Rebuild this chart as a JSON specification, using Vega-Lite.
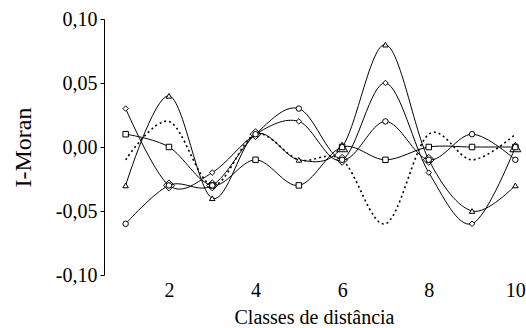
{
  "$schema": "https://vega.github.io/schema/vega-lite/v6.json",
  "width": 420,
  "height": 256,
  "autosize": "none",
  "padding": {"left": 104, "top": 19, "right": 2, "bottom": 53},
  "background": "white",
  "config": {
    "view": {"stroke": null},
    "font": "Liberation Serif",
    "axis": {"labelFont": "Liberation Serif", "titleFont": "Liberation Serif", "labelColor": "black", "titleColor": "black", "titleFontWeight": "normal", "grid": false}
  },
  "datasets": {
    "main": [
      {"s": "A", "x": 1, "y": 0.03}, {"s": "A", "x": 2, "y": -0.03}, {"s": "A", "x": 3, "y": -0.02}, {"s": "A", "x": 4, "y": 0.01}, {"s": "A", "x": 5, "y": 0.02},
      {"s": "A", "x": 6, "y": -0.01}, {"s": "A", "x": 7, "y": 0.05}, {"s": "A", "x": 8, "y": -0.02}, {"s": "A", "x": 9, "y": -0.06}, {"s": "A", "x": 10, "y": 0.0},
      {"s": "B", "x": 1, "y": -0.03}, {"s": "B", "x": 2, "y": 0.04}, {"s": "B", "x": 3, "y": -0.04}, {"s": "B", "x": 4, "y": 0.01}, {"s": "B", "x": 5, "y": -0.01},
      {"s": "B", "x": 6, "y": 0.0}, {"s": "B", "x": 7, "y": 0.08}, {"s": "B", "x": 8, "y": -0.01}, {"s": "B", "x": 9, "y": -0.05}, {"s": "B", "x": 10, "y": -0.03},
      {"s": "C", "x": 1, "y": 0.01}, {"s": "C", "x": 2, "y": 0.0}, {"s": "C", "x": 3, "y": -0.03}, {"s": "C", "x": 4, "y": -0.01}, {"s": "C", "x": 5, "y": -0.03},
      {"s": "C", "x": 6, "y": 0.0}, {"s": "C", "x": 7, "y": -0.01}, {"s": "C", "x": 8, "y": 0.0}, {"s": "C", "x": 9, "y": 0.0}, {"s": "C", "x": 10, "y": 0.0},
      {"s": "D", "x": 1, "y": -0.06}, {"s": "D", "x": 2, "y": -0.03}, {"s": "D", "x": 3, "y": -0.03}, {"s": "D", "x": 4, "y": 0.01}, {"s": "D", "x": 5, "y": 0.03},
      {"s": "D", "x": 6, "y": -0.01}, {"s": "D", "x": 7, "y": 0.02}, {"s": "D", "x": 8, "y": -0.01}, {"s": "D", "x": 9, "y": 0.01}, {"s": "D", "x": 10, "y": -0.01},
      {"s": "E", "x": 1, "y": -0.01}, {"s": "E", "x": 2, "y": 0.02}, {"s": "E", "x": 3, "y": -0.03}, {"s": "E", "x": 4, "y": 0.01}, {"s": "E", "x": 5, "y": -0.01},
      {"s": "E", "x": 6, "y": -0.01}, {"s": "E", "x": 7, "y": -0.06}, {"s": "E", "x": 8, "y": 0.01}, {"s": "E", "x": 9, "y": -0.01}, {"s": "E", "x": 10, "y": 0.01}
    ],
    "sig": [
      {"m": "circle", "x": 2, "y": -0.03}, {"m": "circle", "x": 3, "y": -0.03}, {"m": "circle", "x": 4, "y": 0.01},
      {"m": "circle", "x": 6, "y": -0.01}, {"m": "circle", "x": 8, "y": -0.01},
      {"m": "square", "x": 6, "y": 0.0}, {"m": "square", "x": 10, "y": 0.0}
    ]
  },
  "encoding": {
    "x": {"field": "x", "type": "quantitative", "scale": {"domain": [0.5, 10.2], "nice": false, "zero": false},
      "axis": {"values": [2, 4, 6, 8, 10], "domain": false, "ticks": false, "labelFontSize": 20, "labelPadding": 5, "title": "Classes de distância", "titleFontSize": 20, "titlePadding": 7}},
    "y": {"field": "y", "type": "quantitative", "scale": {"domain": [-0.1, 0.1], "nice": false},
      "axis": {"values": [-0.1, -0.05, 0, 0.05, 0.1], "labelExpr": "replace(replace(format(datum.value, '.2f'), '.', ','), '\u2212', '-')", "domainColor": "black", "tickColor": "black", "tickSize": 4, "labelPadding": 3, "labelFontSize": 20, "title": "I-Moran", "titleFontSize": 24, "titlePadding": 20}}
  },
  "layer": [
    {"mark": {"type": "rule", "color": "black", "strokeWidth": 1}, "encoding": {"y": {"datum": 0}, "x": {"datum": 0.5}, "x2": {"datum": 10.2}}},
    {"data": {"name": "main"}, "transform": [{"filter": "datum.s != 'E'"}],
      "mark": {"type": "line", "interpolate": "cardinal", "color": "black", "strokeWidth": 1},
      "encoding": {"detail": {"field": "s"}}},
    {"data": {"name": "main"}, "transform": [{"filter": "datum.s == 'E'"}],
      "mark": {"type": "line", "interpolate": "cardinal", "color": "black", "strokeWidth": 1.6, "strokeDash": [2, 3]},
      "encoding": {"detail": {"field": "s"}}},
    {"data": {"name": "main"}, "transform": [{"filter": "datum.s != 'E'"}],
      "mark": {"type": "point", "filled": false, "fill": "white", "fillOpacity": 1, "stroke": "black", "strokeWidth": 1, "size": 30, "opacity": 1},
      "encoding": {"shape": {"field": "s", "type": "nominal", "legend": null,
        "scale": {"domain": ["A", "B", "C", "D"], "range": ["diamond", "triangle-up", "square", "circle"]}}}},
    {"data": {"name": "sig"},
      "mark": {"type": "point", "filled": false, "stroke": "black", "strokeWidth": 1, "size": 120, "opacity": 1},
      "encoding": {"shape": {"field": "m", "type": "nominal", "legend": null, "scale": {"domain": ["circle", "square"], "range": ["circle", "square"]}}}}
  ]
}
